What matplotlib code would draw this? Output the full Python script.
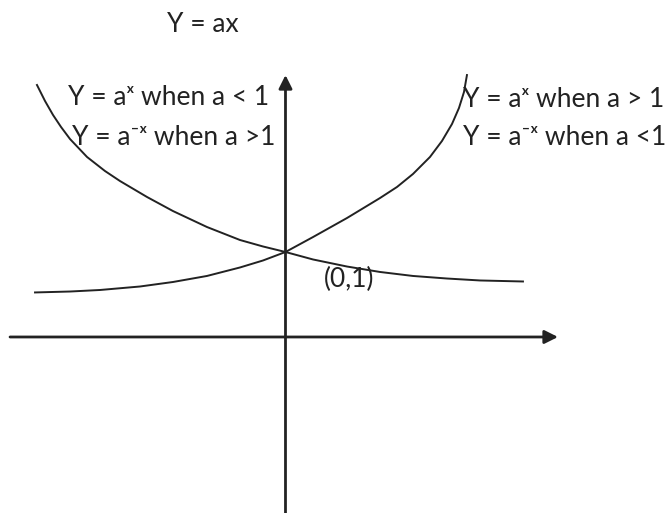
import matplotlib
matplotlib.use("Agg")
import matplotlib.pyplot as plt

plt.rcParams["font.family"] = ["Lato", "DejaVu Sans"]

# curves (x, y), crossing at (0, 1)
grow_x = [-2.947, -2.535, -2.182, -1.712, -1.324, -0.924, -0.535, -0.265, 0.0,
          0.324, 0.724, 1.112, 1.312, 1.500, 1.700, 1.841, 1.959, 2.041,
          2.100, 2.135]
grow_y = [0.524, 0.535, 0.553, 0.594, 0.647, 0.718, 0.818, 0.900, 1.0,
          1.176, 1.400, 1.635, 1.765, 1.918, 2.118, 2.306, 2.506, 2.694,
          2.882, 3.082]

decay_x = [-2.924, -2.829, -2.735, -2.641, -2.535, -2.335, -2.124, -1.947,
           -1.629, -1.324, -0.924, -0.535, -0.265, 0.0, 0.324, 0.724, 1.112,
           1.500, 1.900, 2.288, 2.794]
decay_y = [2.965, 2.776, 2.612, 2.471, 2.329, 2.118, 1.953, 1.835,
           1.647, 1.482, 1.294, 1.141, 1.065, 1.0, 0.912, 0.829, 0.765,
           0.718, 0.688, 0.665, 0.653]

title = "Y = ax"
left_labels = ["Y = a\u02e3 when a < 1", "Y = a\u207b\u02e3 when a >1"]
right_labels = ["Y = a\u02e3 when a > 1", "Y = a\u207b\u02e3 when a <1"]
point_label = "(0,1)"

INK = "#222222"

fig = plt.figure(figsize=(6.7, 5.13), dpi=100)
ax = fig.add_axes([0, 0, 1, 1])
ax.set_xlim(-3.359, 4.524)
ax.set_ylim(-2.071, 3.965)
ax.axis("off")

# axes drawn as single arrows
arrow = dict(arrowstyle="-|>", color=INK, lw=2.0, mutation_scale=20,
             shrinkA=0, shrinkB=0)
ax.annotate("", xy=(0, 3.082), xytext=(0, -2.1), arrowprops=arrow)
ax.annotate("", xy=(3.206, 0), xytext=(-3.241, 0), arrowprops=arrow)

ax.plot(grow_x, grow_y, color=INK, lw=1.4)
ax.plot(decay_x, decay_y, color=INK, lw=1.4)

fs = 19
ax.text(-0.971, 3.671, title, ha="center", va="center", fontsize=fs, color=INK)
ax.text(-2.559, 2.812, left_labels[0], ha="left", va="center", fontsize=fs, color=INK)
ax.text(-2.512, 2.353, left_labels[1], ha="left", va="center", fontsize=fs, color=INK)
ax.text(2.088, 2.80, right_labels[0], ha="left", va="center", fontsize=fs, color=INK)
ax.text(2.088, 2.353, right_labels[1], ha="left", va="center", fontsize=fs, color=INK)
ax.text(0.747, 0.671, point_label, ha="center", va="center", fontsize=fs, color=INK)

fig.savefig("out.png", dpi=100)
